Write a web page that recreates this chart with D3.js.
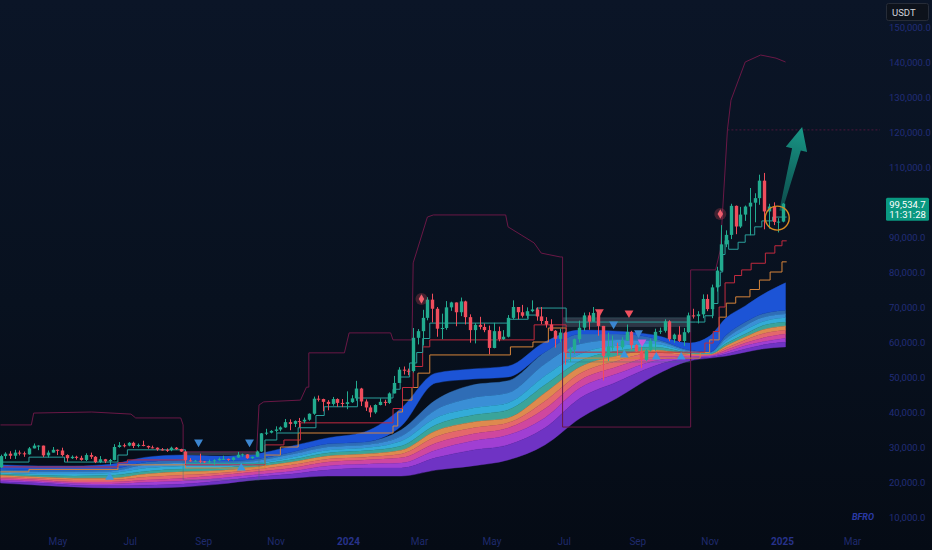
<!DOCTYPE html>
<html><head><meta charset="utf-8">
<script src="https://cdn.jsdelivr.net/npm/d3@7"></script>
<style>
html,body{margin:0;padding:0;background:#070e1a;}
svg{display:block;font-family:Roboto,"Liberation Sans",sans-serif;}
</style></head><body>
<svg id="c" width="932" height="550"></svg>
<script>
// ---------- DATA (prices in thousands USDT) ----------
const candleStart = "2023-03-14";
const candleStepDays = 4;
const firstOpen = 24.2;
const closes = [27.4,28.1,27.5,28.4,28.2,27.9,29.6,30.4,30.4,27.6,28.4,29.2,29.0,27.7,26.8,27.2,26.9,26.3,27.7,27.2,
25.7,26.5,25.9,26.3,30.0,30.5,30.4,31.2,30.3,30.6,30.3,29.9,29.8,29.3,29.2,29.1,29.8,29.4,28.7,26.2,
26.1,26.1,25.9,25.8,25.9,26.2,26.6,26.6,26.3,27.0,27.8,27.9,26.8,27.2,28.7,33.9,34.1,34.6,35.0,35.6,
37.1,36.6,37.4,37.3,37.8,39.5,43.8,43.7,42.9,42.3,43.7,42.6,42.3,42.8,43.9,46.7,43.0,41.3,39.9,42.0,
42.9,42.6,45.3,48.3,52.1,51.8,51.7,61.2,63.1,66.9,72.1,69.5,63.8,64.0,69.9,71.3,68.5,71.6,67.1,63.4,
64.9,64.3,63.4,58.3,63.1,60.8,61.5,66.9,70.0,68.5,67.5,68.8,69.3,67.3,66.0,65.0,63.2,60.9,62.7,57.0,
57.8,60.8,64.1,67.6,65.8,68.3,64.6,56.0,58.7,58.7,58.5,60.4,62.9,59.1,57.3,54.9,57.6,60.3,62.9,63.2,
65.9,60.8,62.1,60.3,62.8,67.6,67.4,67.9,72.3,69.4,75.6,80.4,87.9,90.6,98.9,93.0,96.4,98.7,99.8,101.1,
106.1,97.3,98.7,94.3,94.4,99.5347];
const highs = [27.8,28.5,28.8,29.2,29.0,28.7,30.0,31.0,30.5,30.4,29.0,30.0,29.3,29.8,27.9,27.6,27.5,27.5,28.2,28.4,
27.4,27.4,26.6,26.6,30.8,31.4,31.0,31.4,31.5,31.0,31.8,30.4,30.4,29.9,29.7,29.6,30.1,30.0,29.5,28.8,
26.8,26.3,28.1,26.0,26.4,26.5,27.0,27.5,26.7,27.2,28.6,28.1,28.0,27.3,29.0,34.0,35.2,34.8,35.9,35.9,
38.0,37.9,37.6,38.3,38.4,39.6,44.4,44.7,43.8,43.4,44.3,43.9,43.7,45.9,44.8,48.9,46.9,43.6,41.9,42.2,
43.9,43.5,45.6,50.3,52.8,53.0,52.4,64.0,63.7,69.2,72.8,73.8,70.0,68.1,71.7,71.5,71.3,72.7,71.8,67.9,
65.4,67.2,65.3,64.7,65.5,64.4,63.4,67.7,71.9,70.0,70.6,69.9,71.9,69.9,70.0,67.1,66.5,63.4,63.8,63.0,
58.5,61.0,66.1,68.4,68.5,70.0,68.3,64.6,62.7,61.8,59.8,61.4,65.0,63.2,59.4,58.5,58.0,61.0,63.8,64.1,
66.5,66.2,62.4,64.5,64.0,68.4,69.5,68.8,73.6,73.6,76.4,81.5,93.4,91.9,99.5,99.0,98.6,99.0,104.0,102.5,
107.8,108.3,99.5,99.9,95.4,99.7];
const lows = [24.0,26.6,26.6,26.6,27.6,27.2,27.8,29.6,29.1,27.1,27.0,28.4,27.7,27.3,25.8,26.6,26.4,26.1,26.0,26.6,
25.4,25.4,25.4,24.8,26.2,29.8,29.9,30.2,29.7,29.9,30.2,29.5,29.6,28.9,29.0,28.6,28.8,29.2,28.6,25.2,
25.8,25.8,25.4,25.4,25.4,24.9,26.1,26.3,26.0,26.1,26.9,27.2,26.6,26.6,27.1,28.6,33.4,33.9,34.1,34.5,
35.5,34.8,35.7,35.6,36.8,37.5,39.2,43.0,40.2,40.5,41.8,41.5,41.4,40.8,42.6,43.2,41.7,40.3,38.5,39.5,
41.9,41.8,42.3,45.3,48.3,50.7,50.5,51.3,59.3,59.0,66.2,65.6,61.5,60.8,63.5,68.9,64.5,67.4,65.0,59.8,
59.6,63.6,62.8,56.5,58.2,60.2,60.6,61.3,66.5,66.5,67.0,66.7,68.5,66.1,65.1,64.1,63.1,58.4,60.0,53.5,
54.3,56.5,59.8,63.2,63.5,65.8,61.8,49.0,54.6,57.6,56.1,57.9,60.3,57.9,57.2,52.6,54.6,57.3,57.5,62.3,
62.7,60.2,59.8,60.0,58.9,62.5,66.7,65.3,66.8,68.8,66.8,74.4,80.2,87.1,89.4,90.8,92.6,94.6,90.5,94.2,
99.2,92.2,92.4,93.4,91.3,94.2];

// moving-average ribbon, sampled values (thousands)
const ribbonDates = ["2023-03-14","2023-04-15","2023-05-15","2023-06-15","2023-07-15","2023-08-15","2023-09-15","2023-10-15",
"2023-11-15","2023-12-15","2024-01-15","2024-02-15","2024-03-15","2024-04-15","2024-05-15","2024-06-15","2024-07-15",
"2024-08-15","2024-09-15","2024-10-15","2024-11-01","2024-11-15","2024-12-01","2024-12-15","2025-01-04"];
const fastTop = [24.9,24.6,24.6,25.1,27.1,27.7,27.4,28.0,30.3,32.6,34.3,41.1,51.1,52.3,53.1,60.0,63.4,63.1,62.0,59.7,61.7,66.9,70.3,73.4,76.9];
const fastBot = [23.7,23.4,23.4,23.7,25.7,26.3,26.0,26.6,28.6,30.9,31.4,36.0,48.3,49.4,50.0,57.1,62.3,62.3,61.1,57.7,57.1,62.0,65.7,68.0,69.1];
const ma0 = [23.7,23.4,23.4,23.7,25.7,26.3,26.0,26.6,28.6,30.9,31.4,34.9,43.4,47.7,48.9,57.1,62.3,62.3,61.1,57.7,57.1,62.0,65.7,68.0,69.1];
const ma1 = [23.1,22.9,22.9,23.1,24.9,25.4,25.4,26.0,27.9,30.0,30.6,33.1,40.6,44.0,45.4,53.7,59.4,60.6,60.3,57.4,56.9,61.1,64.6,66.9,68.0];
const ma2 = [22.7,22.3,22.3,22.6,24.0,24.6,24.7,25.4,27.1,29.1,29.7,31.7,38.3,41.1,42.6,50.3,56.6,58.9,59.4,57.1,56.7,60.3,63.4,65.7,66.9];
const ma3 = [22.3,21.9,21.7,21.9,23.1,23.7,24.0,24.9,26.4,28.3,28.9,30.3,36.3,39.1,40.6,47.7,54.6,57.4,58.6,56.9,56.6,59.6,62.3,64.6,65.7];
const ma4 = [21.9,21.4,21.1,21.1,22.3,22.9,23.3,24.3,25.7,27.4,28.0,29.1,34.6,37.1,38.3,45.4,52.9,56.0,57.7,56.6,56.4,58.9,61.4,63.4,64.6];
const ma5 = [21.4,21.0,20.6,20.6,21.4,22.0,22.6,23.6,24.9,26.6,27.1,28.0,32.9,35.4,36.9,43.1,51.1,54.6,56.9,56.3,56.3,58.3,60.6,62.3,63.4];
const ma6 = [21.0,20.6,20.0,20.0,20.6,21.1,21.9,22.9,24.0,25.7,26.3,26.9,31.1,33.7,35.4,40.9,49.1,52.9,55.7,56.0,56.1,57.7,59.7,61.1,62.3];
const ma7 = [20.6,20.1,19.6,19.4,19.9,20.3,21.1,22.1,23.1,24.6,25.1,25.4,29.1,31.7,33.4,38.3,46.9,50.9,54.6,55.7,56.0,57.1,58.9,60.0,61.1];
const ma8 = [20.1,19.7,19.1,18.9,19.1,19.4,20.3,21.4,22.3,23.4,24.0,24.0,26.9,29.1,30.6,35.4,44.0,48.6,53.1,55.4,55.7,56.6,58.0,59.1,60.0];
const ma9 = [19.7,19.1,18.6,18.3,18.3,18.6,19.4,20.6,21.1,21.7,21.7,21.7,23.4,24.6,26.3,30.6,38.3,44.0,50.3,54.6,55.4,56.0,57.1,58.0,58.6];

// trailing step lines
const tealDates = ["2023-03-14","2023-04-07","2023-05-07","2023-06-21","2023-06-29","2023-08-17","2023-10-23","2023-11-02","2023-11-20",
"2023-12-05","2023-12-12","2024-01-09","2024-02-08","2024-02-14","2024-02-22","2024-02-28","2024-03-04","2024-03-10","2024-05-15",
"2024-06-01","2024-06-08","2024-07-03","2024-10-20","2024-10-28","2024-11-04","2024-11-08","2024-11-10","2024-11-12","2024-11-14",
"2024-11-17","2024-11-25","2024-12-01","2024-12-09","2024-12-15","2024-12-24","2025-01-05"];
const tealVals = [25.7,27.1,25.7,27.7,29.2,25.3,32.0,34.0,35.5,39.0,41.5,44.0,46.5,50.0,54.0,57.0,61.0,65.4,66.5,67.7,69.7,65.7,65.7,
67.5,71.0,76.0,80.0,85.0,89.0,86.5,88.5,90.6,92.9,94.6,95.7,95.7];
const redDates = ["2023-03-14","2023-06-21","2023-06-29","2023-08-17","2023-10-23","2023-11-08","2023-11-22","2024-02-08","2024-02-16",
"2024-02-25","2024-03-04","2024-03-10","2024-06-06","2024-07-03","2024-10-20","2024-10-28","2024-11-04","2024-11-09","2024-11-14",
"2024-11-22","2024-11-28","2024-12-06","2024-12-18","2024-12-26","2025-01-01","2025-01-05"];
const redVals = [24.3,25.5,26.3,24.9,30.6,32.0,36.9,41.0,47.0,53.0,58.6,60.6,64.9,57.1,57.1,59.7,63.0,70.0,76.9,79.0,80.6,82.5,85.4,87.5,88.9,88.9];
const orangeDates = ["2023-03-14","2023-04-07","2023-06-21","2023-08-17","2023-10-23","2023-11-05","2023-11-20","2024-02-08","2024-02-12",
"2024-02-16","2024-02-24","2024-02-29","2024-03-10","2024-05-17","2024-06-05","2024-06-18","2024-07-03","2024-10-24","2024-11-01",
"2024-11-09","2024-11-15","2024-11-23","2024-12-05","2024-12-13","2024-12-22","2025-01-01","2025-01-05"];
const orangeVals = [22.9,23.6,24.9,24.0,27.7,30.0,34.0,36.0,40.0,43.4,47.0,51.1,56.3,58.6,60.0,64.0,55.4,57.0,60.6,67.1,71.1,72.9,75.0,77.7,80.0,82.9,82.9];

// outer channel
const chanDates = ["2023-03-14","2023-04-09","2023-04-11","2023-05-30","2023-07-02","2023-07-06","2023-08-13","2023-08-15","2023-08-15",
"2023-08-17","2023-10-16","2023-10-18","2023-10-22","2023-11-22","2023-11-27","2023-11-29","2023-11-29","2023-12-29","2024-01-02",
"2024-02-06","2024-02-08","2024-02-24","2024-02-25","2024-03-08","2024-03-13","2024-05-13","2024-05-15","2024-05-26","2024-06-06",
"2024-06-12","2024-06-28","2024-06-30","2024-06-30","2024-10-16","2024-10-16","2024-11-06","2024-11-10","2024-11-16","2024-11-19",
"2024-12-01","2024-12-14","2024-12-27","2025-01-04"];
const chanVals = [36.3,36.3,39.7,40.0,39.4,38.3,38.3,36.3,29.1,28.6,28.6,42.0,42.9,43.4,47.1,47.1,56.9,56.9,62.6,62.6,60.6,60.6,82.6,
95.7,96.3,96.3,92.9,90.6,88.3,85.4,84.3,84.3,35.7,35.7,80.6,80.6,86.3,120.6,129.1,140.0,142.0,141.1,140.0];
const targetLevel = 120.6;
const targetFrom = "2024-11-16";

// consolidation boxes
const boxStart = ["2023-08-15","2024-06-30"];
const boxEnd = ["2023-10-18","2024-10-16"];
const boxTop = [28.6,66.9];
const boxBandBottom = [27.7,64.3];
const boxBottom = [20.6,54.3];

// signal markers
const diamondDates = ["2024-03-03","2024-11-10"];
const diamondVals = [72.3,96.6];
const sellRedDates = ["2024-07-31","2024-08-25"];
const sellRedVals = [68.6,68.3];
const sellBlueDates = ["2023-08-28","2023-10-10","2024-08-12","2024-09-02"];
const sellBlueVals = [31.4,31.4,65.1,62.6];
const sellPinkDates = ["2024-09-05"];
const sellPinkVals = [60.0];
const buyBlueDates = ["2023-06-14","2023-10-03","2024-08-21","2024-09-17","2024-10-08"];
const buyBlueVals = [21.4,24.0,56.3,55.7,55.7];

// projection arrow and highlight
const arrowFrom = ["2024-12-31", 97.5];
const arrowTo = ["2025-01-18", 121.4];
const circleAt = ["2024-12-28", 95.4];

// axes (100,000 sits under the last-price label)
const xTickDates = ["2023-05-01","2023-07-01","2023-09-01","2023-11-01","2024-01-01","2024-03-01","2024-05-01","2024-07-01","2024-09-01","2024-11-01","2025-01-01","2025-03-01"];
const xTickLabels = ["May","Jul","Sep","Nov","2024","Mar","May","Jul","Sep","Nov","2025","Mar"];
const yTicks = [10000,20000,30000,40000,50000,60000,70000,80000,90000,110000,120000,130000,140000,150000];
const lastPrice = 99534.7;
const lastTimer = "11:31:28";
const currency = "USDT";
const watermark = "BFRO";

// ---------- DRAW ----------
const K = 1000;
const svg = d3.select("#c");
const parse = d3.utcParse("%Y-%m-%d");
const x = d3.scaleUtc().domain([parse("2023-03-14"), parse("2025-03-25")]).range([0.5, 880.4]);
const y = d3.scaleLinear().domain([10000,150000]).range([517,27]);

const defs = svg.append("defs");
const bg = defs.append("linearGradient").attr("id","bg").attr("x1",0).attr("y1",0).attr("x2",0).attr("y2",1);
bg.append("stop").attr("offset","0%").attr("stop-color","#0b1527");
bg.append("stop").attr("offset","55%").attr("stop-color","#08111f");
bg.append("stop").attr("offset","100%").attr("stop-color","#050b15");
defs.append("clipPath").attr("id","plot").append("rect").attr("x",0).attr("y",0).attr("width",881).attr("height",528);
const ag = defs.append("linearGradient").attr("id","arrowG").attr("gradientUnits","userSpaceOnUse");
ag.append("stop").attr("offset","0%").attr("stop-color","#12907e").attr("stop-opacity",0.45);
ag.append("stop").attr("offset","100%").attr("stop-color","#1aa792").attr("stop-opacity",0.9);

svg.append("rect").attr("width",932).attr("height",550).attr("fill","url(#bg)");

const g = svg.append("g").attr("clip-path","url(#plot)");

// boxes (fill)
boxStart.forEach((s,i)=>{
  const x0 = x(parse(s)), x1 = x(parse(boxEnd[i]));
  g.append("rect").attr("x",x0).attr("width",x1-x0)
    .attr("y",y(boxTop[i]*K)).attr("height",y(boxBottom[i]*K)-y(boxTop[i]*K))
    .attr("fill","#1a2130").attr("fill-opacity",0.35);
});

// ribbon
const rDates = ribbonDates.map(parse);
const fan = [ma0,ma1,ma2,ma3,ma4,ma5,ma6,ma7,ma8,ma9];
const fanColors = ["#2f6db6","#3a8fd6","#33acd8","#3aa49a","#de8a4e","#e4676c","#cf479f","#a03fd3","#6f33c4"];
fanColors.forEach((col,j)=>{
  const a = d3.area().x((d,i)=>x(d)).y0((d,i)=>y(fan[j+1][i]*K)).y1((d,i)=>y(fan[j][i]*K)).curve(d3.curveMonotoneX);
  g.append("path").datum(rDates).attr("d",a).attr("fill",col).attr("stroke",col).attr("stroke-width",0.4);
});
const fastArea = d3.area().x(d=>x(d)).y0((d,i)=>y(fastBot[i]*K)).y1((d,i)=>y(fastTop[i]*K)).curve(d3.curveMonotoneX);
g.append("path").datum(rDates).attr("d",fastArea).attr("fill","#1c54d6").attr("stroke","#1c54d6").attr("stroke-width",0.4);

// boxes (top band and outline)
boxStart.forEach((s,i)=>{
  const x0 = x(parse(s)), x1 = x(parse(boxEnd[i]));
  g.append("rect").attr("x",x0).attr("width",x1-x0)
    .attr("y",y(boxTop[i]*K)).attr("height",y(boxBandBottom[i]*K)-y(boxTop[i]*K))
    .attr("fill","#3a4252").attr("fill-opacity",0.75);
  g.append("rect").attr("x",x0).attr("width",x1-x0)
    .attr("y",y(boxTop[i]*K)).attr("height",y(boxBottom[i]*K)-y(boxTop[i]*K))
    .attr("fill","none").attr("stroke","#3f6f78").attr("stroke-opacity",0.55).attr("stroke-width",0.8);
});

// channel
const chanPts = chanDates.map((d,i)=>({d:parse(d),v:chanVals[i]*K}));
g.append("path").datum(chanPts).attr("d",d3.line().x(p=>x(p.d)).y(p=>y(p.v)))
  .attr("fill","none").attr("stroke","#6a1846").attr("stroke-width",1);
g.append("line").attr("x1",x(parse(targetFrom))).attr("x2",880).attr("y1",y(targetLevel*K)).attr("y2",y(targetLevel*K))
  .attr("stroke","#5e1a44").attr("stroke-width",1).attr("stroke-dasharray","2,2").attr("opacity",0.8);

// step lines
function stepLine(ds,vs,col){
  const pts = ds.map((d,i)=>({d:parse(d),v:vs[i]*K}));
  g.append("path").datum(pts).attr("d",d3.line().x(p=>x(p.d)).y(p=>y(p.v)).curve(d3.curveStepAfter))
    .attr("fill","none").attr("stroke",col).attr("stroke-width",1);
}
stepLine(orangeDates,orangeVals,"#d6843a");
stepLine(redDates,redVals,"#c22a3e");
stepLine(tealDates,tealVals,"#2a9e9a");

// candles
const start = parse(candleStart);
const candles = closes.map((c,i)=>({
  d: d3.utcDay.offset(start, i*candleStepDays),
  o: (i ? closes[i-1] : firstOpen)*K, c: c*K, h: highs[i]*K, l: lows[i]*K
}));
const up = "#22ab8f", dn = "#f04d5c";
const cg = g.append("g");
candles.forEach(k=>{
  const col = k.c >= k.o ? up : dn;
  const cx = Math.round(x(k.d))+0.5;
  cg.append("line").attr("x1",cx).attr("x2",cx).attr("y1",y(k.h)).attr("y2",y(k.l)).attr("stroke",col).attr("stroke-width",1);
  const yt = y(Math.max(k.o,k.c)), yb = y(Math.min(k.o,k.c));
  cg.append("rect").attr("x",cx-1.7).attr("width",3.4).attr("y",yt).attr("height",Math.max(1,yb-yt)).attr("fill",col);
});

// markers
function tri(ds,vs,col,down){
  ds.forEach((d,i)=>{
    g.append("path").attr("d",d3.symbol(d3.symbolTriangle,34)())
      .attr("transform",`translate(${x(parse(d))},${y(vs[i]*K)}) rotate(${down?180:0})`)
      .attr("fill",col);
  });
}
tri(sellRedDates,sellRedVals,"#f0505e",true);
tri(sellBlueDates,sellBlueVals,"#3c86d0",true);
tri(sellPinkDates,sellPinkVals,"#c85ad8",true);
tri(buyBlueDates,buyBlueVals,"#3c95e0",false);
diamondDates.forEach((d,i)=>{
  const px = x(parse(d)), py = y(diamondVals[i]*K);
  g.append("circle").attr("cx",px).attr("cy",py).attr("r",6).attr("fill","#f0505e").attr("fill-opacity",0.25);
  g.append("path").attr("d",d3.symbol(d3.symbolDiamond,26)()).attr("transform",`translate(${px},${py})`).attr("fill","#f0606e");
});

// arrow
const B = [x(parse(arrowFrom[0])), y(arrowFrom[1]*K)];
const T = [x(parse(arrowTo[0])), y(arrowTo[1]*K)];
const len = Math.hypot(T[0]-B[0],T[1]-B[1]);
const u = [(T[0]-B[0])/len,(T[1]-B[1])/len], n = [-u[1],u[0]];
const Hh = [T[0]-u[0]*23, T[1]-u[1]*23];
const P = (p,s)=>[p[0]+n[0]*s,p[1]+n[1]*s];
const arrowPts = [P(B,1.5),P(Hh,4.5),P(Hh,11),T,P(Hh,-11),P(Hh,-4.5),P(B,-1.5)];
ag.attr("x1",B[0]).attr("y1",B[1]).attr("x2",T[0]).attr("y2",T[1]);
svg.append("path").attr("d","M"+arrowPts.map(p=>p.join(",")).join("L")+"Z").attr("fill","url(#arrowG)");

// highlight circle
svg.append("circle").attr("cx",x(parse(circleAt[0]))).attr("cy",y(circleAt[1]*K)).attr("r",12)
  .attr("fill","none").attr("stroke","#d88a22").attr("stroke-width",1.4);

// axes
const xa = svg.append("g").attr("transform","translate(0,535)")
  .call(d3.axisBottom(x).tickValues(xTickDates.map(parse)).tickFormat((d,i)=>xTickLabels[i]).tickSize(0).tickPadding(3));
xa.select(".domain").remove();
xa.selectAll("text").attr("fill",(d,i)=>/^\d{4}$/.test(xTickLabels[i])?"#27328a":"#1f2a6c")
  .attr("font-weight",(d,i)=>/^\d{4}$/.test(xTickLabels[i])?"bold":"normal")
  .attr("font-size",10).attr("font-family","Roboto,'Liberation Sans',sans-serif");

const ya = svg.append("g").attr("transform","translate(880,0)")
  .call(d3.axisRight(y).tickValues(yTicks).tickFormat(d3.format(",.1f")).tickSize(0).tickPadding(9));
ya.select(".domain").remove();
ya.selectAll("text").attr("fill","#212d78").attr("font-size",9.5).attr("font-family","Roboto,'Liberation Sans',sans-serif");

// last price label
const ly = y(lastPrice);
svg.append("rect").attr("x",886).attr("y",ly-6).attr("width",43).attr("height",23).attr("rx",1.5).attr("fill","#0a9981");
svg.append("text").attr("x",907.5).attr("y",ly+4).attr("text-anchor","middle").attr("fill","#ffffff")
  .attr("font-size",9.5).text(d3.format(",.1f")(lastPrice));
svg.append("text").attr("x",907.5).attr("y",ly+14.5).attr("text-anchor","middle").attr("fill","#ffffff")
  .attr("font-size",9.5).text(lastTimer);

// currency box
svg.append("rect").attr("x",886.5).attr("y",3.5).attr("width",42).attr("height",17).attr("rx",2)
  .attr("fill","#0d121b").attr("stroke","#262c38");
svg.append("text").attr("x",892).attr("y",15.5).attr("fill","#d1d4dc").attr("font-size",9.5).text(currency);

// watermark
svg.append("text").attr("x",852).attr("y",520).attr("fill","#2b3aa6").attr("font-size",9)
  .attr("font-style","italic").attr("font-weight","bold").text(watermark);
</script>
</body></html>
